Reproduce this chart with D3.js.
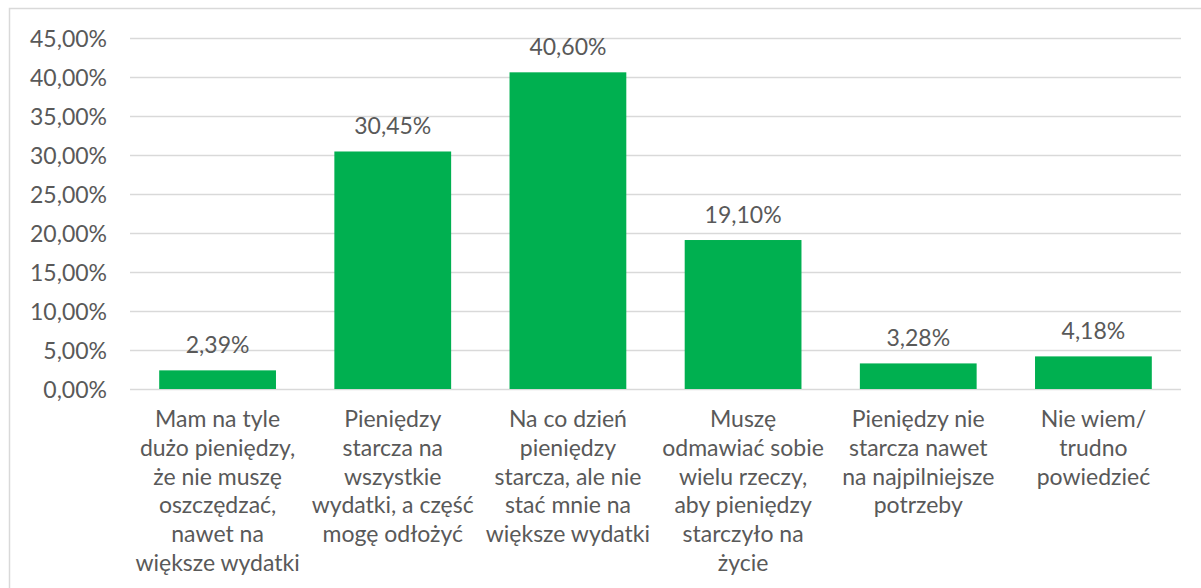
<!DOCTYPE html>
<html>
<head>
<meta charset="utf-8">
<script src="https://cdn.jsdelivr.net/npm/d3@7"></script>
<style>
  body { margin: 0; background: #fff; }
  text { font-family: Lato, "Open Sans", sans-serif; fill: #595959; }
</style>
</head>
<body>
<script>
// categories (already split into the lines shown under each bar)
var categories = [
    ["Mam na tyle", "dużo pieniędzy,", "że nie muszę", "oszczędzać,", "nawet na", "większe wydatki"],
    ["Pieniędzy", "starcza na", "wszystkie", "wydatki, a część", "mogę odłożyć"],
    ["Na co dzień", "pieniędzy", "starcza, ale nie", "stać mnie na", "większe wydatki"],
    ["Muszę", "odmawiać sobie", "wielu rzeczy,", "aby pieniędzy", "starczyło na", "życie"],
    ["Pieniędzy nie", "starcza nawet", "na najpilniejsze", "potrzeby"],
    ["Nie wiem/", "trudno", "powiedzieć"]
];
var values = [2.39, 30.45, 40.60, 19.10, 3.28, 4.18];
var yTicks = [0, 5, 10, 15, 20, 25, 30, 35, 40, 45];

var width = 1201, height = 588;
var plot = {left: 130, right: 1181, top: 38, bottom: 389};

var pct = function(v) { return d3.format(".2f")(v).replace(".", ",") + "%"; };

var svg = d3.select("body")
    .append("svg")
    .attr("width", width)
    .attr("height", height);

// chart area border (runs off the right and bottom of the picture)
svg.append("rect")
    .attr("x", 9.5)
    .attr("y", 8.5)
    .attr("width", 1400)
    .attr("height", 800)
    .attr("fill", "none")
    .attr("stroke", "#d9d9d9")
    .attr("stroke-width", 1.5);

var x = d3.scaleBand()
    .domain(d3.range(categories.length))
    .range([plot.left, plot.right])
    .padding(0);

var y = d3.scaleLinear()
    .domain([0, 45])
    .range([plot.bottom, plot.top]);

// gridlines + y labels
var yAxis = svg.append("g")
    .attr("transform", "translate(" + plot.left + ",0)")
    .call(d3.axisLeft(y)
        .tickValues(yTicks)
        .tickSize(-(plot.right - plot.left))
        .tickPadding(23)
        .tickFormat(pct));

yAxis.select(".domain").remove();
yAxis.selectAll(".tick line")
    .attr("stroke", "#d9d9d9")
    .attr("stroke-width", 1.5);
yAxis.selectAll(".tick text")
    .style("font-size", "23px")
    .attr("dy", "0.36em");

// bars
var barW = x.bandwidth() * 2 / 3;

svg.selectAll(".bar")
    .data(values)
    .enter()
    .append("rect")
    .attr("class", "bar")
    .attr("x", function(d, i) { return x(i) + (x.bandwidth() - barW) / 2; })
    .attr("y", function(d) { return y(d); })
    .attr("width", barW)
    .attr("height", function(d) { return y(0) - y(d); })
    .attr("fill", "#00b050");

// value labels
svg.selectAll(".val")
    .data(values)
    .enter()
    .append("text")
    .attr("class", "val")
    .attr("x", function(d, i) { return x(i) + x.bandwidth() / 2; })
    .attr("y", function(d) { return y(d) - 17; })
    .attr("text-anchor", "middle")
    .style("font-size", "23px")
    .text(pct);

// category labels
var cat = svg.selectAll(".cat")
    .data(categories)
    .enter()
    .append("text")
    .attr("class", "cat")
    .attr("text-anchor", "middle")
    .style("font-size", "23px");

cat.selectAll("tspan")
    .data(function(d, i) { return d.map(function(line) { return {line: line, i: i}; }); })
    .enter()
    .append("tspan")
    .attr("x", function(d) { return x(d.i) + x.bandwidth() / 2; })
    .attr("y", function(d, j) { return 427 + j * 28.8; })
    .text(function(d) { return d.line; });
</script>
</body>
</html>
